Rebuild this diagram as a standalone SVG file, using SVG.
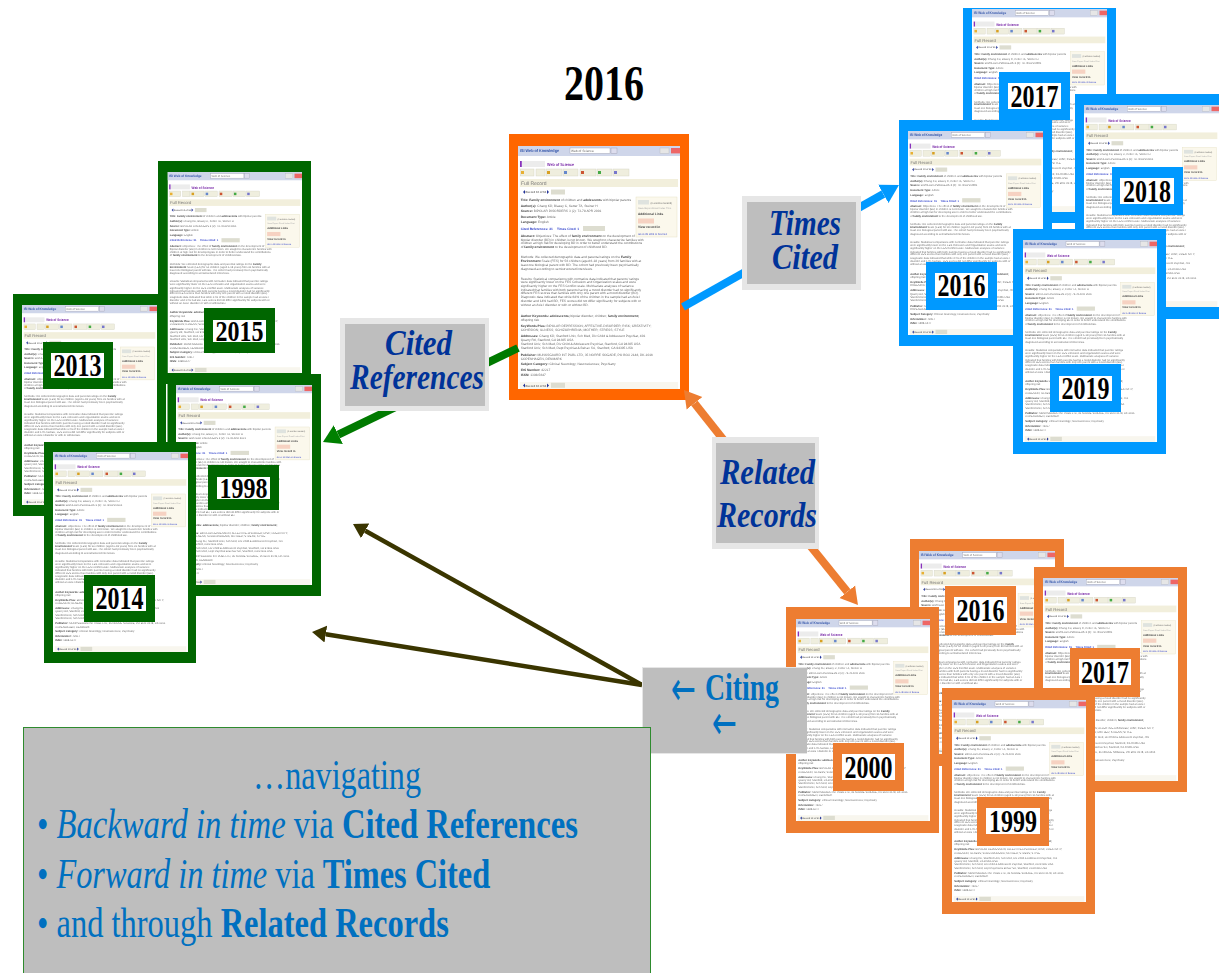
<svg xmlns="http://www.w3.org/2000/svg" width="1219" height="973" viewBox="0 0 1219 973">
<style>
text{font-family:"Liberation Serif","Times New Roman",serif}
.g{fill:#006600}.b{fill:#0099ff}.o{fill:#ed7d31}.m{fill:#ff6600}
.paper{fill:#fff}
.white{fill:#fff}
.yr{font-size:32px;font-weight:700;fill:#000}
.yr2{font-size:29px;font-weight:700;fill:#000}
.lab{font-size:36px;font-weight:700;font-style:italic;fill:#003399}
.outer{fill:#e6e6e6}.inner{fill:#bebebe}
.nav{font-size:42px;fill:#0070c0}
.it{font-style:italic}.bd{font-weight:700}
.cit{font-size:37px;font-weight:700;fill:#0070c0}
.arw{font-family:"DejaVu Sans",sans-serif;font-size:48px;fill:#0070c0}
.c{fill:none;stroke-linecap:butt}
.t{font-family:"Liberation Sans",Arial,sans-serif;font-size:3.25px;fill:#6a6a6a;text-rendering:geometricPrecision}
.tb{font-weight:700;fill:#444}
.lnk{fill:#3344cc}
.btn{fill:#efeede;stroke:#cfcfbf;stroke-width:.4}
</style>
<defs>
<filter id="soft" x="-2%" y="-2%" width="104%" height="104%"><feGaussianBlur stdDeviation="0.42"/></filter>
<marker id="hg" markerUnits="userSpaceOnUse" viewBox="0 -11 18 22" markerWidth="18" markerHeight="22" refX="0" refY="0" orient="auto"><polygon points="0,-10.5 17,0 0,10.5" fill="#008000"/></marker>
<marker id="hb" markerUnits="userSpaceOnUse" viewBox="0 -11 19 22" markerWidth="19" markerHeight="22" refX="0" refY="0" orient="auto"><polygon points="0,-10.5 18,0 0,10.5" fill="#0099ff"/></marker>
<marker id="ho" markerUnits="userSpaceOnUse" viewBox="0 -11 18 22" markerWidth="18" markerHeight="22" refX="0" refY="0" orient="auto"><polygon points="0,-10 17,0 0,10" fill="#ed7d31"/></marker>
<marker id="hd" markerUnits="userSpaceOnUse" viewBox="0 -9 15 18" markerWidth="15" markerHeight="18" refX="0" refY="0" orient="auto"><polygon points="0,-8.5 14,0 0,8.5" fill="#3a3500"/></marker>
<symbol id="rec" viewBox="0 0 162 243" preserveAspectRatio="none">
<rect class="paper" width="162" height="243"/>
<g filter="url(#soft)">
<rect width="162" height="10" fill="#cfd6ea"/>
<text x="2" y="6" class="t" style="font-size:4.2px;font-weight:700;fill:#3355aa" textLength="39" lengthAdjust="spacingAndGlyphs">ISI Web of Knowledge</text>
<rect x="52" y="2" width="40" height="5.4" fill="#fff" stroke="#99a" stroke-width=".4"/>
<text x="53" y="6" class="t">Web of Science</text>
<rect x="93" y="2" width="6" height="5.4" fill="#dde" stroke="#99a" stroke-width=".4"/>
<rect x="142" y="2" width="9" height="5.4" fill="#e6e6e6" stroke="#aaa" stroke-width=".3"/>
<rect x="153" y="2" width="9" height="5.4" fill="#ee6666"/>
<rect x="2" y="15" width="1.8" height="6" fill="#8833bb"/>
<rect x="4" y="15" width="23" height="6" fill="#ececec"/>
<text x="29" y="20" class="t" style="font-size:4.3px;font-weight:700;fill:#7a2aa8" textLength="27" lengthAdjust="spacingAndGlyphs">Web of Science</text>
<g>
<rect class="btn" x="2.3" y="23" width="13.7" height="7"/><rect class="btn" x="18" y="23" width="9" height="7"/><rect class="btn" x="28" y="23" width="16" height="7"/><rect class="btn" x="45" y="23" width="15" height="7"/><rect class="btn" x="62" y="23" width="16" height="7"/><rect class="btn" x="79" y="23" width="15" height="7"/><rect class="btn" x="95" y="23" width="16" height="7"/>
<rect x="3" y="25" width="3" height="3" fill="#e8b030"/><rect x="29" y="25" width="3" height="3" fill="#d8a020"/><rect x="46" y="25" width="3" height="3" fill="#6688cc"/><rect x="63" y="25" width="3" height="3" fill="#cc5533"/><rect x="80" y="25" width="3" height="3" fill="#44aa44"/><rect x="96" y="25" width="3" height="3" fill="#7777cc"/>
</g>
<rect x="2" y="33" width="158" height="8" fill="#f2efdc"/>
<text x="3" y="39" class="t" style="font-size:5px;fill:#777">Full Record</text>
<polygon points="5,46 7,44 7,48" fill="#223399"/>
<text x="7.5" y="47" class="t" style="font-size:2.8px;font-weight:700">Record 10 of 51</text>
<polygon points="31,46 29,44 29,48" fill="#223399"/>
<rect x="33" y="43.5" width="14" height="5" fill="#ddddd0"/>
<text class="t" x="2.7" y="55"><tspan class="tb">Title: Family environment</tspan> of children and <tspan class="tb">adolescents</tspan> with bipolar parents</text>
<text class="t" x="2.7" y="60.5"><tspan class="tb">Author(s):</tspan> Chang KD, Blasey C, Ketter TA, Steiner H</text>
<text class="t" x="2.7" y="66"><tspan class="tb">Source:</tspan> BIPOLAR DISORDERS 3 (2): 73-78 APR 2001</text>
<text class="t" x="2.7" y="71.5"><tspan class="tb">Document Type:</tspan> Article</text>
<text class="t" x="2.7" y="77"><tspan class="tb">Language:</tspan> English</text>
<text class="t lnk" x="2.7" y="84" style="font-weight:700">Cited References: 31</text>
<text class="t lnk" x="39" y="84" style="font-weight:700">Times Cited: 1</text>
<rect x="65" y="80" width="22" height="5" fill="#ddddd0"/>
<text class="t" x="2.7" y="91"><tspan class="tb">Abstract:</tspan> Objectives: The effect of <tspan class="tb">family environment</tspan> on the development of</text>
<text class="t" x="2.7" y="94.5">bipolar disorder (BD) in children is not known. We sought to characterize families with</text>
<text class="t" x="2.7" y="98">children at high risk for developing BD in order to better understand the contributions</text>
<text class="t" x="2.7" y="102">of <tspan class="tb">family environment</tspan> to the development of childhood BD.</text>
<text class="t" x="2.7" y="112">Methods: We collected demographic data and parental ratings on the <tspan class="tb">Family</tspan></text>
<text class="t" x="2.7" y="115.5"><tspan class="tb">Environment</tspan> Scale (FES) for 56 children (aged 6-18 years) from 36 families with at</text>
<text class="t" x="2.7" y="119.5">least one biological parent with BD. The cohort had previously been psychiatrically</text>
<text class="t" x="2.7" y="123.5">diagnosed according to semistructured interviews.</text>
<text class="t" x="2.7" y="133.5">Results: Statistical comparisons with normative data indicated that parents' ratings</text>
<text class="t" x="2.7" y="137">were significantly lower on the FES Cohesion and Organization scales and were</text>
<text class="t" x="2.7" y="141">significantly higher on the FES Conflict scale. Multivariate analyses of variance</text>
<text class="t" x="2.7" y="145">indicated that families with both parents having a mood disorder had no significantly</text>
<text class="t" x="2.7" y="148">different FES scores than families with only one parent with a mood disorder (BD).</text>
<text class="t" x="2.7" y="152">Diagnostic data indicated that while 64% of the children in the sample had an Axis I</text>
<text class="t" x="2.7" y="156">disorder and 14% had BD, FES scores did not differ significantly for subjects with or</text>
<text class="t" x="2.7" y="159.5">without an Axis I disorder or with or without BD.</text>
<text class="t" x="2.7" y="171"><tspan class="tb">Author Keywords: adolescents;</tspan> bipolar disorder; children; <tspan class="tb">family environment;</tspan></text>
<text class="t" x="2.7" y="175">offspring risk</text>
<text class="t" x="2.7" y="181"><tspan class="tb">KeyWords Plus:</tspan> BIPOLAR DEPRESSION; AFFECTIVE-DISORDER; RISK; CREATIVITY;</text>
<text class="t" x="2.7" y="185">COHESION; ILLNESS; SCHIZOPHRENIA; MOTHER; STRESS; STYLE</text>
<text class="t" x="2.7" y="191"><tspan class="tb">Addresses:</tspan> Chang KD, Stanford Univ, Sch Med, Div Child &amp; Adolescent Psychiat, 401</text>
<text class="t" x="2.7" y="195">Quarry Rd, Stanford, CA 94305 USA</text>
<text class="t" x="2.7" y="199">Stanford Univ, Sch Med, Div Child &amp; Adolescent Psychiat, Stanford, CA 94305 USA</text>
<text class="t" x="2.7" y="203">Stanford Univ, Sch Med, Dept Psychiat &amp; Behav Sci, Stanford, CA 94305 USA</text>
<text class="t" x="2.7" y="209.5"><tspan class="tb">Publisher:</tspan> MUNKSGAARD INT PUBL LTD, 35 NORRE SOGADE, PO BOX 2148, DK-1016</text>
<text class="t" x="2.7" y="213.5">COPENHAGEN, DENMARK</text>
<text class="t" x="2.7" y="219"><tspan class="tb">Subject Category:</tspan> Clinical Neurology; Neurosciences; Psychiatry</text>
<text class="t" x="2.7" y="225"><tspan class="tb">IDS Number:</tspan> 422L7</text>
<text class="t" x="2.7" y="230"><tspan class="tb">ISSN:</tspan> 1398-5647</text>
<rect x="118" y="51" width="41" height="40" fill="#fbf8ec" stroke="#e6e2c6" stroke-width=".5"/>
<rect x="120" y="54" width="11" height="4.5" fill="#dfe3df"/>
<text class="t" x="132.5" y="57.5" style="font-size:2.6px">(0 articles marked)</text>
<text class="t" x="120" y="63" style="font-size:2.5px;fill:#aaa">Save Export Email Index Print</text>
<text class="t tb" x="120" y="69">Additional Links</text>
<rect x="120" y="72.5" width="16" height="5" fill="#f6d2c2"/>
<text class="t tb" x="120" y="82">View record in</text>
<text class="t lnk" x="120" y="88.5" style="font-size:2.6px">Go to ISI Web of Science</text>
<rect x="2" y="236" width="158" height="7" fill="#f8f6ee"/>
<polygon points="5,239.5 7,237.5 7,241.5" fill="#223399"/>
<text x="7.5" y="240.5" class="t" style="font-size:2.8px;font-weight:700">Record 10 of 51</text>
<polygon points="31,239.5 29,237.5 29,241.5" fill="#223399"/>
<rect x="33" y="236.8" width="14" height="5" fill="#ddddd0"/>
</g>
</symbol>
</defs>
<rect width="1219" height="973" fill="#fff"/>

<text id="title-2016" x="564" y="100" font-size="50" font-weight="700" textLength="80" lengthAdjust="spacingAndGlyphs" fill="#000">2016</text>

<g id="node-main">
<rect class="m" x="509" y="134" width="180" height="266"/>
<use href="#rec" x="518" y="146" width="162" height="243"/>
</g>

<g id="node-g2013">
<rect class="g" x="13" y="294" width="153" height="222"/>
<use href="#rec" x="22" y="305" width="135" height="200"/>
<rect class="g" x="43" y="342" width="70" height="47"/><rect class="white" x="51" y="353" width="53" height="25"/>
<text class="yr" x="53.5" y="376" textLength="48" lengthAdjust="spacingAndGlyphs">2013</text>
</g>
<g id="node-g2015">
<rect class="g" x="158" y="161" width="153" height="223"/>
<use href="#rec" x="167.500" y="172" width="134.500" height="201"/>
<rect class="g" x="204" y="308" width="71" height="45"/><rect class="white" x="213" y="320" width="53" height="22"/>
<text class="yr2" x="215.500" y="340.500" textLength="48" lengthAdjust="spacingAndGlyphs">2015</text>
</g>
<g id="node-g1998">
<rect class="g" x="167.500" y="374" width="153.500" height="222"/>
<use href="#rec" x="176" y="385" width="136" height="200"/>
<rect class="g" x="208" y="465" width="71" height="45"/><rect class="white" x="217" y="477" width="53" height="22"/>
<text class="yr2" x="219.500" y="497.500" textLength="48" lengthAdjust="spacingAndGlyphs">1998</text>
</g>
<g id="node-g2014">
<rect class="g" x="44" y="442" width="152" height="221"/>
<use href="#rec" x="53" y="452" width="135" height="200"/>
<rect class="g" x="84" y="575" width="71" height="47"/><rect class="white" x="93" y="586" width="53" height="25"/>
<text class="yr" x="95.500" y="609" textLength="48" lengthAdjust="spacingAndGlyphs">2014</text>
</g>

<g id="node-b2017">
<rect class="b" x="963" y="8" width="153" height="215"/>
<use href="#rec" x="972" y="9" width="135" height="203"/>
<rect class="b" x="999" y="72" width="71" height="48"/><rect class="white" x="1008" y="83" width="53" height="26"/>
<text class="yr" x="1010.500" y="107" textLength="48" lengthAdjust="spacingAndGlyphs">2017</text>
</g>
<g id="node-b2016">
<rect class="b" x="899" y="120" width="153" height="226"/>
<use href="#rec" x="908" y="131" width="135" height="204"/>
<rect class="b" x="926" y="262" width="71" height="48"/><rect class="white" x="935" y="273" width="53" height="25"/>
<text class="yr" x="937.500" y="296" textLength="48" lengthAdjust="spacingAndGlyphs">2016</text>
</g>
<g id="node-b2018">
<rect class="b" x="1075" y="94" width="153" height="225"/>
<use href="#rec" x="1084" y="105" width="135" height="202"/>
<rect class="b" x="1112" y="167" width="71" height="48"/><rect class="white" x="1120" y="178" width="54" height="26"/>
<text class="yr" x="1123" y="202" textLength="48" lengthAdjust="spacingAndGlyphs">2018</text>
</g>
<g id="node-b2019">
<rect class="b" x="1013" y="229" width="153" height="225"/>
<use href="#rec" x="1023" y="240" width="134" height="202"/>
<rect class="b" x="1050" y="364" width="71" height="48"/><rect class="white" x="1059" y="376" width="53" height="25"/>
<text class="yr" x="1061.500" y="399" textLength="48" lengthAdjust="spacingAndGlyphs">2019</text>
</g>

<g id="node-o2016">
<rect class="o" x="910" y="539" width="154" height="227"/>
<use href="#rec" x="919" y="551" width="136" height="203"/>
<rect class="o" x="945" y="586" width="71" height="49"/><rect class="white" x="954" y="597" width="53" height="26"/>
<text class="yr" x="956.500" y="621" textLength="48" lengthAdjust="spacingAndGlyphs">2016</text>
</g>
<g id="node-o2017">
<rect class="o" x="1034" y="567" width="153" height="225"/>
<use href="#rec" x="1043" y="578" width="135" height="203"/>
<rect class="o" x="1070" y="648" width="70" height="49"/><rect class="white" x="1079" y="659" width="52" height="26"/>
<text class="yr" x="1081" y="683" textLength="48" lengthAdjust="spacingAndGlyphs">2017</text>
</g>
<g id="node-o2000">
<rect class="o" x="786" y="607" width="153" height="226"/>
<use href="#rec" x="796" y="619" width="134" height="202"/>
<rect class="o" x="833" y="743" width="71" height="48"/><rect class="white" x="842" y="754" width="53" height="26"/>
<text class="yr" x="844.500" y="778" textLength="48" lengthAdjust="spacingAndGlyphs">2000</text>
</g>
<g id="node-o1999">
<rect class="o" x="942" y="688" width="153" height="226"/>
<use href="#rec" x="952" y="700" width="134" height="202"/>
<rect class="o" x="977" y="797" width="72" height="49"/><rect class="white" x="986" y="808" width="54" height="26"/>
<text class="yr" x="989" y="832" textLength="48" lengthAdjust="spacingAndGlyphs">1999</text>
</g>

<g id="connectors" class="c">
<line x1="518" y1="348" x2="338.300" y2="434.600" stroke="#007a00" stroke-width="8" marker-end="url(#hg)"/>
<line x1="683" y1="307" x2="883.300" y2="193.900" stroke="#0099ff" stroke-width="8" marker-end="url(#hb)"/>
<line x1="726" y1="443" x2="694.500" y2="403.300" stroke="#ed7d31" stroke-width="8" marker-end="url(#ho)"/>
<line x1="808" y1="543" x2="847.300" y2="591.800" stroke="#ed7d31" stroke-width="8" marker-end="url(#ho)"/>
<line x1="642" y1="685" x2="365.200" y2="530.800" stroke="#3a3500" stroke-width="4.500" marker-end="url(#hd)"/>
<line x1="642" y1="685" x2="325.800" y2="634.200" stroke="#3a3500" stroke-width="4.500" marker-end="url(#hd)"/>
</g>

<g id="node-cited-references">
<rect class="outer" x="340" y="318" width="149" height="93"/><rect class="inner" x="345" y="324" width="140" height="82"/>
<text class="lab" x="385" y="355" textLength="67" lengthAdjust="spacingAndGlyphs">Cited</text>
<text class="lab" x="350" y="389" textLength="134" lengthAdjust="spacingAndGlyphs">References</text>
</g>
<g id="node-times-cited">
<rect class="outer" x="742" y="196" width="119" height="94"/><rect class="inner" x="747" y="202" width="109" height="82"/>
<text class="lab" x="769" y="235" textLength="72" lengthAdjust="spacingAndGlyphs">Times</text>
<text class="lab" x="772" y="269" textLength="66" lengthAdjust="spacingAndGlyphs">Cited</text>
</g>
<g id="node-related-records">
<rect class="outer" x="712" y="437" width="107" height="112"/><rect class="inner" x="716" y="443" width="99" height="100"/>
<text class="lab" x="720" y="484" textLength="95" lengthAdjust="spacingAndGlyphs">Related</text>
<text class="lab" x="717" y="527" textLength="100" lengthAdjust="spacingAndGlyphs">Records</text>
</g>
<g id="node-citing">
<rect class="outer" x="642" y="667" width="165" height="87"/><rect class="inner" x="643" y="668" width="164" height="85"/>
<text class="arw" x="671" y="705" textLength="25" lengthAdjust="spacingAndGlyphs">←</text>
<text class="cit" x="705" y="700" textLength="74" lengthAdjust="spacingAndGlyphs">Citing</text>
<text class="arw" x="712" y="739" textLength="25" lengthAdjust="spacingAndGlyphs">←</text>
</g>

<g id="node-navigating">
<rect x="23.500" y="727.500" width="627" height="260" fill="#bebebe" stroke="#2e8b2e" stroke-width="1"/>
<text class="nav" x="253" y="789" textLength="168" lengthAdjust="spacingAndGlyphs">…navigating</text>
<text class="nav" transform="matrix(.7775 0 0 1 37 838)">• <tspan class="it">Backward in time</tspan> via <tspan class="bd">Cited References</tspan></text>
<text class="nav" transform="matrix(.77 0 0 1 37 888)">• <tspan class="it">Forward in time</tspan> via <tspan class="bd">Times Cited</tspan></text>
<text class="nav" transform="matrix(.7735 0 0 1 37 937)">• and through <tspan class="bd">Related Records</tspan></text>
</g>
</svg>
